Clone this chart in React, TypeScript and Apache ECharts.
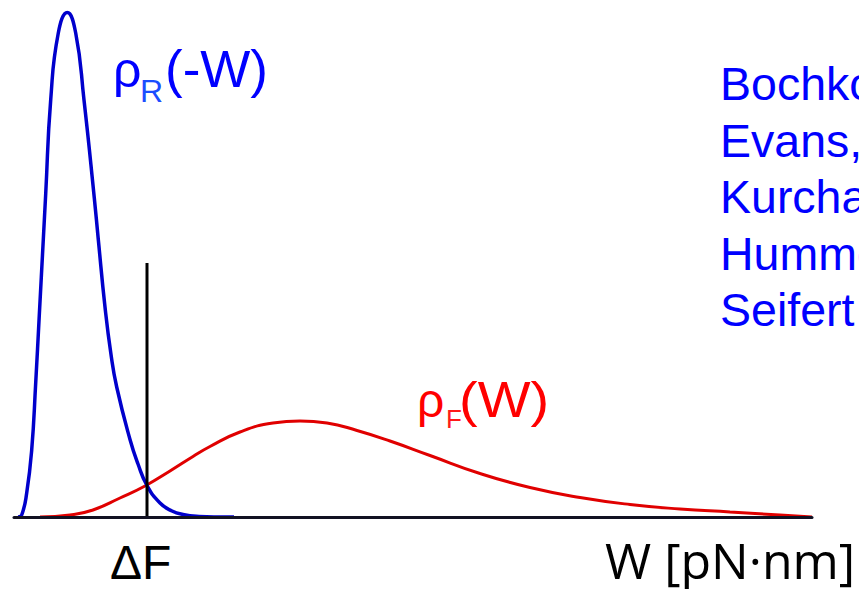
import React, { useEffect, useRef } from "react";
import * as echarts from "echarts";

// W axis (arbitrary pN·nm units) and densities
const reverseDensity: [number, number][] = [
  [0.4, 0], [0.77, 0.4], [1.27, 4.8], [1.77, 13.4], [2.17, 26.8], [2.53, 40.4],
  [2.93, 55.5], [3.17, 64.6], [3.67, 83.4], [4.43, 96.8], [5.33, 100.9],
  [6.17, 96.8], [7.0, 83.4], [8.03, 63.8], [8.43, 55.5], [9.1, 42.0],
  [9.7, 32.5], [10.27, 26.0], [11.6, 15.5], [12.4, 10.6], [13.3, 6.3],
  [14.6, 2.8], [15.8, 1.2], [16.9, 0.5], [18.5, 0.1], [20, 0], [22, 0],
];
const forwardDensity: [number, number][] = [
  [2.6, 0], [5.6, 0.4], [7.9, 1.4], [10.6, 3.8], [13.1, 6.2], [15.6, 9.2],
  [17.9, 12.1], [19.6, 14.1], [22.6, 17.0], [25.9, 18.8], [28.6, 19.2],
  [31.3, 18.8], [34.3, 17.3], [37.6, 15.2], [41.6, 12.3], [46.6, 8.7],
  [51.6, 5.9], [56.6, 3.9], [61.6, 2.5], [66.6, 1.6], [71.6, 1.0],
  [76.6, 0.4], [79.8, 0],
];
const deltaF = 13.3;
const deltaFLineTop = 50.8;
const xMax = 79.8;
const yMax = 101;

const references = ["Bochkov", "Evans,", "Kurchan", "Hummer", "Seifert"];
const referenceBaselines = [100, 156.7, 213.3, 270, 326.6];

export default function App() {
  const ref = useRef<HTMLDivElement>(null);
  useEffect(() => {
    if (!ref.current) return;
    const chart = echarts.init(ref.current, null, { renderer: "svg" });
    const sans = "'Liberation Sans', Arial, sans-serif";
    const mid = (baseline: number, fs: number) => baseline - 0.3465 * fs;
    const graphics: any[] = [
      { type: "text", x: 113, y: mid(87, 50), style: { text: "ρ", font: `50px ${sans}`, fill: "#0000ff", verticalAlign: "middle" } },
      { type: "text", x: 140, y: mid(101.7, 32), style: { text: "R", font: `32px ${sans}`, fill: "#1a4dff", verticalAlign: "middle" } },
      { type: "text", x: 165, y: mid(87, 51), scaleX: 1.04, style: { text: "(-W)", font: `51px ${sans}`, fill: "#0000ff", verticalAlign: "middle" } },
      { type: "text", x: 417, y: mid(417, 48), style: { text: "ρ", font: `48px ${sans}`, fill: "#ff0000", verticalAlign: "middle" } },
      { type: "text", x: 446, y: mid(428, 26), style: { text: "F", font: `26px ${sans}`, fill: "#ff1a1a", verticalAlign: "middle" } },
      { type: "text", x: 459, y: mid(417, 50), scaleX: 1.12, style: { text: "(W)", font: `50px ${sans}`, fill: "#ff0000", verticalAlign: "middle" } },
      { type: "text", x: 110, y: mid(579, 48), style: { text: "ΔF", font: `48px ${sans}`, fill: "#000000", verticalAlign: "middle" } },
      { type: "text", x: 605, y: 579 - 0.388 * 50, style: { text: "W [pN·nm]", font: `50px 'Open Sans', sans-serif`, fill: "#000000", verticalAlign: "middle" } },
    ];
    references.forEach((r, i) => {
      graphics.push({
        type: "text",
        x: 720,
        y: mid(referenceBaselines[i], 46.5),
        style: { text: r, font: `46.5px ${sans}`, fill: "#0000ff", verticalAlign: "middle" },
      });
    });
    chart.setOption({
      animation: false,
      grid: { left: 14, right: 47, top: 12, bottom: 72 },
      xAxis: {
        type: "value",
        min: 0,
        max: xMax,
        z: 5,
        axisLine: { show: true, lineStyle: { color: "#111122", width: 3 } },
        axisTick: { show: false },
        axisLabel: { show: false },
        splitLine: { show: false },
      },
      yAxis: {
        type: "value",
        min: 0,
        max: yMax,
        show: false,
        splitLine: { show: false },
      },
      series: [
        {
          type: "line",
          data: forwardDensity,
          smooth: 0.5,
          symbol: "none",
          lineStyle: { color: "#e00000", width: 3 },
          z: 2,
        },
        {
          type: "line",
          data: reverseDensity,
          smooth: 0.5,
          symbol: "none",
          lineStyle: { color: "#0000cc", width: 3.5 },
          z: 3,
        },
        {
          type: "line",
          data: [[deltaF, 0], [deltaF, deltaFLineTop]],
          symbol: "none",
          lineStyle: { color: "#000000", width: 3 },
          z: 4,
        },
      ],
      graphic: graphics,
    });
    return () => chart.dispose();
  }, []);
  return (
    <div
      ref={ref}
      style={{ position: "fixed", left: 0, top: 0, width: 859, height: 589, background: "#ffffff", overflow: "hidden" }}
    />
  );
}
